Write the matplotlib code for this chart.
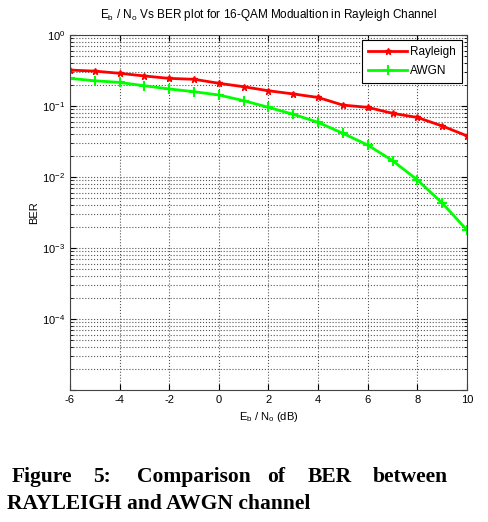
import matplotlib.pyplot as plt
import numpy as np

plt.rcParams['font.family'] = ['Liberation Sans', 'DejaVu Sans']
plt.rcParams['mathtext.fontset'] = 'custom'
plt.rcParams['mathtext.rm'] = 'Liberation Sans'
plt.rcParams['mathtext.it'] = 'Liberation Sans:italic'

# data
ebno = np.arange(-6, 11)
ber_rayleigh = [0.321, 0.31, 0.289, 0.265, 0.245, 0.238, 0.209, 0.187, 0.164,
                0.148, 0.132, 0.103, 0.0958, 0.0789, 0.069, 0.0524, 0.038]
ber_awgn = [0.245, 0.227, 0.215, 0.193, 0.174, 0.159, 0.143, 0.119, 0.0958,
            0.0764, 0.0589, 0.0412, 0.0282, 0.0170, 0.0091, 0.0043, 0.00179]
xticks = [-6, -4, -2, 0, 2, 4, 6, 8, 10]
yticks = [1e-5, 1e-4, 1e-3, 1e-2, 1e-1, 1e0]
ytick_labels = ['', '$10^{-4}$', '$10^{-3}$', '$10^{-2}$', '$10^{-1}$', '$10^{0}$']

fig = plt.figure(figsize=(4.88, 5.22), dpi=100)
ax = fig.add_axes([0.1434, 0.2529, 0.8135, 0.680])

ax.semilogy(ebno, ber_rayleigh, color='#ff0000', marker='*', markersize=5,
            linewidth=2, label='Rayleigh')
ax.semilogy(ebno, ber_awgn, color='#00ff00', marker='+', markersize=7,
            markeredgewidth=1.5, linewidth=2, label='AWGN')

ax.set_xlim(-6, 10)
ax.set_ylim(1e-5, 1e0)
ax.set_xticks(xticks)
ax.set_xticklabels([str(t) for t in xticks])
ax.set_yticks(yticks)
ax.set_yticklabels(ytick_labels)
ax.grid(True, which='major', linestyle=':', color='#555555', linewidth=0.8)
ax.grid(True, which='minor', axis='y', linestyle=':', color='#555555', linewidth=0.8)
ax.tick_params(which='both', direction='in', top=True, right=True, labelsize=8)
ax.tick_params(which='major', length=4)
ax.tick_params(which='minor', length=2)
for s in ax.spines.values():
    s.set_color('#444444')

ax.set_title('E$_\\mathrm{b}$ / N$_\\mathrm{o}$ Vs BER plot for 16-QAM Modualtion in Rayleigh Channel',
             fontsize=8.5, pad=12)
ax.set_xlabel('E$_\\mathrm{b}$ / N$_\\mathrm{o}$ (dB)', fontsize=8, labelpad=4)
ax.set_ylabel('BER', fontsize=8, labelpad=2)

leg = ax.legend(loc='upper right', fontsize=8.5, fancybox=False, framealpha=1,
                edgecolor='black', handlelength=3.3, handletextpad=0.25,
                labelspacing=0.6, borderpad=0.5, borderaxespad=0.45)
leg.get_frame().set_linewidth(0.8)

# caption (justified first line)
cap_words = ['Figure', '5:', 'Comparison', 'of', 'BER', 'between']
cap_x = [12, 93, 137, 267, 308, 373]
for w, x in zip(cap_words, cap_x):
    fig.text(x / 488, 1 - 482 / 522, w, family='Liberation Serif', weight='bold',
             fontsize=15.5, va='baseline', ha='left')
fig.text(7 / 488, 1 - 509 / 522, 'RAYLEIGH and AWGN channel', family='Liberation Serif',
         weight='bold', fontsize=15.5, va='baseline', ha='left')

fig.savefig('out.png', dpi=100)
